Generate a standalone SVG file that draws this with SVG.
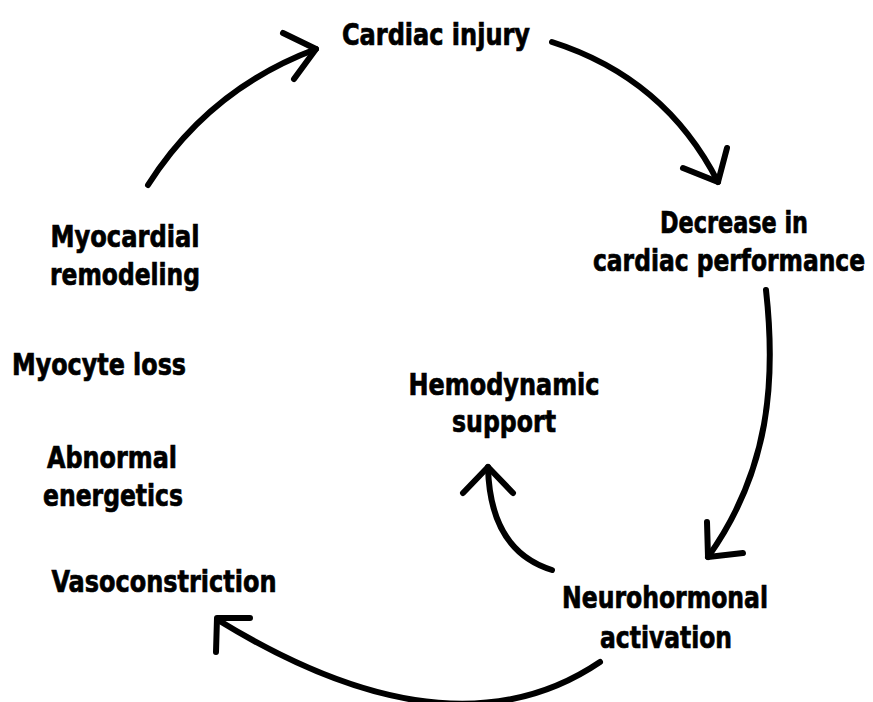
<svg xmlns="http://www.w3.org/2000/svg" width="873" height="702" viewBox="0 0 873 702">
<style>
text{font-family:"Liberation Sans Narrow","DejaVu Sans Condensed","Liberation Sans",sans-serif;font-weight:bold;font-size:31px;fill:#000;stroke:#000;stroke-width:0.7;text-anchor:middle}
.c{fill:none;stroke:#000;stroke-width:6;stroke-linecap:round;stroke-linejoin:round}
</style>
<rect width="873" height="702" fill="#fff"/>
<g id="connectors">
<path class="c" d="M148,185 Q209,89 316,49"/>
<path class="c" d="M283,33 L316,49 L294,79"/>
<path class="c" d="M552,42 Q665,78 718,182"/>
<path class="c" d="M683,168 L718,182 L727,148"/>
<path class="c" d="M766,290 C776,380 770,470 708,557"/>
<path class="c" d="M707,522 L708,557 L743,553"/>
<path class="c" d="M552,570 Q490,551 488,467"/>
<path class="c" d="M463,493 L488,467 L513,493"/>
<path class="c" d="M600,662 Q451,763 218,620"/>
<path class="c" d="M250,618 L217,618 L216,652"/>
</g>
<g id="cardiac-injury"><text x="436" y="45" textLength="188" lengthAdjust="spacingAndGlyphs">Cardiac injury</text></g>
<g id="decrease"><text x="734" y="233" textLength="148" lengthAdjust="spacingAndGlyphs">Decrease in</text><text x="729" y="271" textLength="272" lengthAdjust="spacingAndGlyphs">cardiac performance</text></g>
<g id="myocardial-remodeling"><text x="125" y="247" textLength="149" lengthAdjust="spacingAndGlyphs">Myocardial</text><text x="125" y="285" textLength="150" lengthAdjust="spacingAndGlyphs">remodeling</text></g>
<g id="myocyte-loss"><text x="99" y="375" textLength="174" lengthAdjust="spacingAndGlyphs">Myocyte loss</text></g>
<g id="abnormal-energetics"><text x="112" y="468" textLength="130" lengthAdjust="spacingAndGlyphs">Abnormal</text><text x="113" y="506" textLength="140" lengthAdjust="spacingAndGlyphs">energetics</text></g>
<g id="vasoconstriction"><text x="164" y="592" textLength="225" lengthAdjust="spacingAndGlyphs">Vasoconstriction</text></g>
<g id="hemodynamic-support"><text x="504" y="395" textLength="191" lengthAdjust="spacingAndGlyphs">Hemodynamic</text><text x="504" y="432" textLength="104" lengthAdjust="spacingAndGlyphs">support</text></g>
<g id="neurohormonal-activation"><text x="665" y="608" textLength="206" lengthAdjust="spacingAndGlyphs">Neurohormonal</text><text x="666" y="648" textLength="132" lengthAdjust="spacingAndGlyphs">activation</text></g>
</svg>
